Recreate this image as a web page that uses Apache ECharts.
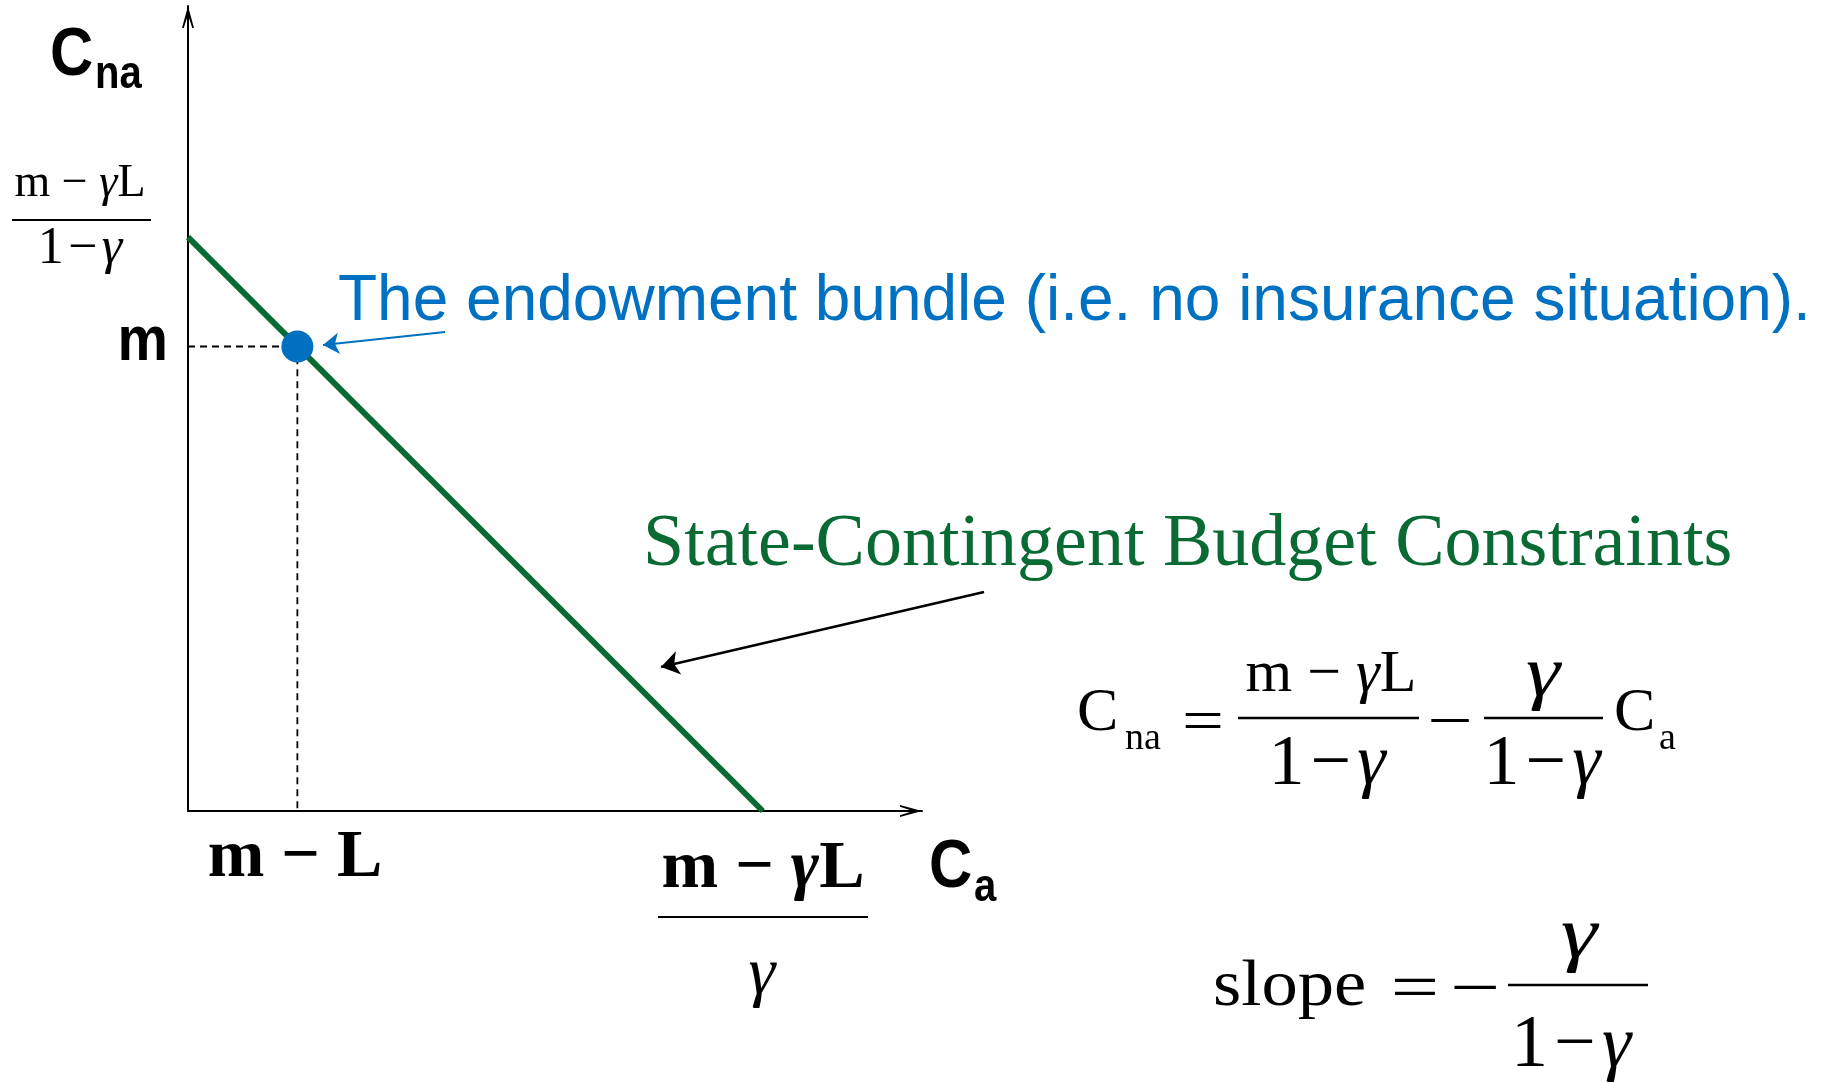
<!DOCTYPE html>
<html>
<head>
<meta charset="utf-8">
<script src="https://cdn.jsdelivr.net/npm/echarts@6/dist/echarts.min.js"></script>
<style>
  html, body { margin: 0; padding: 0; background: #fff; }
  #chart { width: 1823px; height: 1083px; }
</style>
</head>
<body>
<div id="chart"></div>
<script>
// budget line end points (C_a, C_na) and the endowment bundle, in axis units 0..100
const budgetCa = [0, 78.3];
const budgetCna = [71.3, 0];
const endowment = [14.9, 57.7];

const GREEN = '#0A6A33';
const BLUE = '#0070C0';
const SERIF = '"Liberation Serif", "Times New Roman", serif';
const SANS = '"Liberation Sans", Arial, sans-serif';
// thin arrow head used on both axes
const axisArrow = 'path://M6,0L12,22L10.3,22L6,9L1.7,22L0,22Z';

const chart = echarts.init(document.getElementById('chart'));

function txt(text, x, y, font, opt) {
  opt = opt || {};
  return {
    type: 'text', x: x, y: y, scaleX: opt.sx || 1, silent: true,
    style: {
      text: text, font: font, fill: opt.fill || '#000',
      align: opt.align || 'center', verticalAlign: 'middle', rich: opt.rich
    }
  };
}
function bar(x1, x2, y, w) {
  return { type: 'line', silent: true, shape: { x1: x1, y1: y, x2: x2, y2: y }, style: { stroke: '#000', lineWidth: w || 2 } };
}
// "m − γL" and "1 − γ" with an italic gamma
function richSet(size, bold) {
  const w = bold ? 'bold' : 'normal';
  return {
    r: { fontFamily: SERIF, fontSize: size, fontWeight: w, fill: '#000' },
    i: { fontFamily: SERIF, fontSize: size, fontWeight: w, fontStyle: 'italic', fill: '#000' }
  };
}
function mgl(x, y, size, bold) {
  return txt('{r|m \u2212 }{i|\u03b3}{r|L}', x, y, '', { rich: richSet(size, bold) });
}
function oneMinusG(x, y, size) {
  return txt('{r|1\u200a\u2212\u200a}{i|\u03b3}', x, y, '', { rich: richSet(size, false) });
}
function gamma(x, y, size, sx) {
  return txt('\u03b3', x, y, 'italic ' + size + 'px ' + SERIF, { sx: sx || 1 });
}

const graphics = [
  // axis names
  txt('C', 50, 56, 'bold 68px ' + SANS, { align: 'left', sx: 0.88 }),
  txt('na', 95, 75, 'bold 46px ' + SANS, { align: 'left', sx: 0.87 }),
  txt('C', 929, 868, 'bold 68px ' + SANS, { align: 'left', sx: 0.88 }),
  txt('a', 974, 888, 'bold 46px ' + SANS, { align: 'left', sx: 0.87 }),

  // vertical intercept (m − γL)/(1 − γ)
  mgl(80, 184, 46, false),
  bar(12, 151, 220, 2),
  oneMinusG(80, 249, 52),

  // endowment levels
  txt('m', 168, 343, 'bold 63px ' + SANS, { align: 'right', sx: 0.9 }),
  txt('m \u2212 L', 295, 858, 'bold 68px ' + SERIF),

  // horizontal intercept (m − γL)/γ
  mgl(763, 869, 68, true),
  bar(658, 868, 917, 2),
  gamma(762, 976, 68),

  // callouts
  txt('The endowment bundle (i.e. no insurance situation).', 338, 302, '64px ' + SANS, { align: 'left', fill: BLUE }),
  txt('State-Contingent Budget Constraints', 643, 546, '74px ' + SERIF, { align: 'left', fill: GREEN }),

  // C_na = (m − γL)/(1 − γ) − γ/(1 − γ) C_a
  txt('C', 1077, 714, '62px ' + SERIF, { align: 'left' }),
  txt('na', 1125, 739, '38px ' + SERIF, { align: 'left' }),
  txt('=', 1203, 725, '62px ' + SERIF, { sx: 1.2 }),
  mgl(1331, 675, 60, false),
  bar(1238, 1419, 718, 2.5),
  oneMinusG(1327, 765, 72),
  txt('\u2212', 1450, 725, '62px ' + SERIF, { sx: 1.3 }),
  gamma(1543, 677, 72, 1.2),
  bar(1484, 1603, 718, 2.5),
  oneMinusG(1542, 765, 72),
  txt('C', 1614, 714, '62px ' + SERIF, { align: 'left' }),
  txt('a', 1659, 739, '38px ' + SERIF, { align: 'left' }),

  // slope = − γ/(1 − γ)
  txt('slope', 1213, 988, '66px ' + SERIF, { align: 'left', sx: 1.1 }),
  txt('=', 1415, 992, '66px ' + SERIF, { sx: 1.3 }),
  txt('\u2212', 1475, 992, '66px ' + SERIF, { sx: 1.35 }),
  gamma(1579, 938, 74, 1.25),
  bar(1508, 1648, 985, 2.5),
  oneMinusG(1571, 1047, 74)
];

const axisCommon = {
  type: 'value', min: 0, max: 100,
  axisLine: {
    onZero: true,
    lineStyle: { color: '#000', width: 2 },
    symbol: ['none', axisArrow],
    symbolSize: [12, 22],
    symbolOffset: [0, -11]
  },
  axisTick: { show: false },
  axisLabel: { show: false },
  splitLine: { show: false }
};

chart.setOption({
  animation: false,
  backgroundColor: '#fff',
  grid: { left: 188, top: 6, right: 901, bottom: 272 },
  xAxis: axisCommon,
  yAxis: axisCommon,
  graphic: graphics,
  series: [
    {
      // dashed guides from the endowment point to both axes
      type: 'line', z: 1, symbol: 'none', silent: true,
      lineStyle: { color: '#000', width: 1.8, type: [7, 5] },
      data: [[0, endowment[1]], endowment, [endowment[0], 0]]
    },
    {
      type: 'line', z: 2, symbol: 'none', silent: true,
      lineStyle: { color: GREEN, width: 6, cap: 'butt' },
      data: budgetCa.map(function (v, i) { return [v, budgetCna[i]]; }),
      markLine: {
        silent: true, symbol: ['none', 'arrow'],
        label: { show: false },
        data: [
          [{ x: 445, y: 332, symbolSize: 16, lineStyle: { color: BLUE, width: 2, type: 'solid' } }, { x: 323, y: 345, symbolSize: 16 }],
          [{ x: 984, y: 592, symbolSize: 18, lineStyle: { color: '#000', width: 2.5, type: 'solid' } }, { x: 661, y: 667, symbolSize: 18 }]
        ]
      }
    },
    {
      type: 'scatter', z: 3, silent: true,
      symbolSize: 32,
      itemStyle: { color: BLUE, opacity: 1 },
      data: [endowment]
    }
  ]
});
</script>
</body>
</html>
